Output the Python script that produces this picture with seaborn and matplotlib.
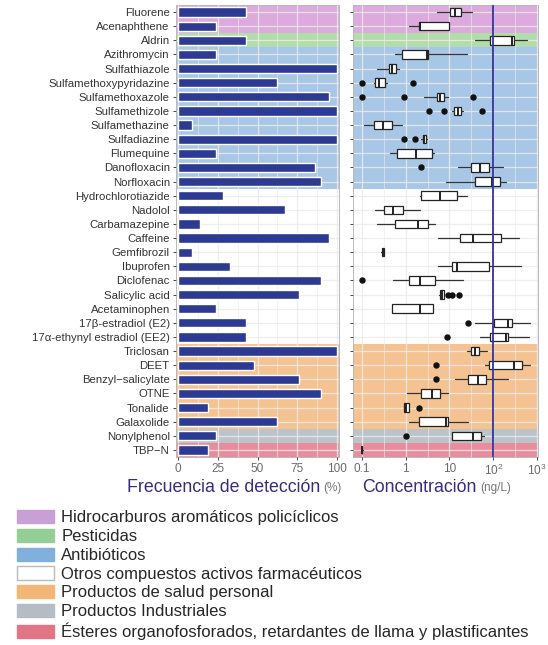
import numpy as np
import pandas as pd
import matplotlib
matplotlib.use("Agg")
import matplotlib.pyplot as plt
from matplotlib.patches import Patch
from matplotlib.ticker import FixedLocator
import seaborn as sns

# ---------------- data ----------------
compounds = [
    "Fluorene", "Acenaphthene", "Aldrin", "Azithromycin", "Sulfathiazole",
    "Sulfamethoxypyridazine", "Sulfamethoxazole", "Sulfamethizole",
    "Sulfamethazine", "Sulfadiazine", "Flumequine", "Danofloxacin",
    "Norfloxacin", "Hydrochlorotiazide", "Nadolol", "Carbamazepine",
    "Caffeine", "Gemfibrozil", "Ibuprofen", "Diclofenac", "Salicylic acid",
    "Acetaminophen", "17β-estradiol (E2)", "17α-ethynyl estradiol (EE2)",
    "Triclosan", "DEET", "Benzyl\u2212salicylate", "OTNE", "Tonalide",
    "Galaxolide", "Nonylphenol", "TBP\u2212N",
]
detection_freq = [43, 24, 43, 24, 100, 62, 95, 100, 9, 100, 24, 86, 90,
                  28, 67, 14, 95, 9, 33, 90, 76, 24, 43, 43,
                  100, 48, 76, 90, 19, 62, 24, 19]
group_of = [0, 0, 1, 2, 2, 2, 2, 2, 2, 2, 2, 2, 2,
            3, 3, 3, 3, 3, 3, 3, 3, 3, 3, 3,
            4, 4, 4, 4, 4, 4, 5, 6]

# concentration box statistics (ng/L)
whisker_low = [5.1, 1.2, 39, 0.58, 0.22, 0.19, 2.6, 11.5, 0.11, 2.3, 0.45, 16, 8.5,
               2.1, 0.20, 0.22, 5.6, 0.28, 5.6, 0.52, 5.8, 0.5, 39, 49,
               25, 66, 13.5, 1.07, 0.9, 1.17, 11.5, 0.098]
q1 = [10.5, 2.0, 85, 0.81, 0.41, 0.20, 5.1, 13, 0.19, 2.45, 0.63, 31, 39,
      2.3, 0.32, 0.58, 17, 0.29, 11.5, 1.17, 6.0, 0.5, 105, 85,
      31, 81, 26, 2.3, 0.94, 2.0, 11.5, 0.099]
median = [13.5, 2.1, 270, 3.1, 0.49, 0.25, 6.2, 15.5, 0.30, 2.6, 1.75, 50, 93,
          6.0, 0.52, 1.9, 35, 0.30, 15, 2.1, 6.6, 2.1, 220, 190,
          38, 300, 44, 4.0, 1.02, 8.5, 35, 0.100]
q3 = [18, 10, 300, 3.3, 0.60, 0.34, 7.6, 18, 0.49, 2.9, 4.0, 79, 140,
      14.5, 0.89, 3.2, 150, 0.32, 80, 4.8, 7.4, 4.2, 270, 215,
      47, 460, 69, 6.2, 1.17, 9.1, 52, 0.102]
whisker_high = [32, 10, 590, 25, 0.69, 0.37, 9.5, 20, 0.81, 3.0, 4.4, 170, 190,
                25, 2.1, 4.8, 380, 0.33, 420, 20, 7.6, 4.2, 700, 650,
                72, 680, 220, 9.5, 1.2, 26, 60, 0.104]
outliers = [[], [], [], [], [], [0.1, 1.5], [0.1, 0.9, 34], [3.5, 7.4, 55],
            [], [0.9, 1.65], [], [2.2], [],
            [], [], [], [], [], [], [0.1], [9.1, 11.7, 16.6], [], [26], [8.7],
            [], [5.0], [5.0], [], [2.0], [], [1.02], []]

group_names = [
    "Hidrocarburos aromáticos policíclicos",
    "Pesticidas",
    "Antibióticos",
    "Otros compuestos activos farmacéuticos",
    "Productos de salud personal",
    "Productos Industriales",
    "Ésteres organofosforados, retardantes de llama y plastificantes",
]
band_colors = ["#dcaadc", "#b2dcaa", "#a8c7e6", "#ffffff", "#f5c291", "#bcc3cb", "#e98d9c"]
legend_colors = ["#c9a0d6", "#93cf94", "#82b0dc", "#ffffff", "#f2b777", "#b5bcc4", "#e27585"]

freq_ticks = [0, 25, 50, 75, 100]
conc_ticks = [0.1, 1, 10, 100, 1000]
conc_tick_labels = ["0.1", "1", "10", "$10^2$", "$10^3$"]
guideline = 100

# ---------------- style ----------------
sns.set_theme(style="white")
plt.rcParams["font.family"] = ["Liberation Sans", "DejaVu Sans"]
plt.rcParams["mathtext.fontset"] = "custom"
plt.rcParams["mathtext.rm"] = "Liberation Sans"

W, H = 548, 645
fig = plt.figure(figsize=(W / 100, H / 100), dpi=100)
top, bottom = 5, 457
ax1 = fig.add_axes([176 / W, 1 - bottom / H, 163 / W, (bottom - top) / H])
ax2 = fig.add_axes([353 / W, 1 - bottom / H, 185 / W, (bottom - top) / H], sharey=ax1)

n = len(compounds)
rows = np.arange(n)

for ax in (ax1, ax2):
    for i, g in enumerate(group_of):
        if band_colors[g] != "#ffffff":
            ax.axhspan(i - 0.5, i + 0.5, color=band_colors[g], lw=0, zorder=0)
    for s in ax.spines.values():
        s.set_color("#b8b8b8")
        s.set_linewidth(0.7)

# ---- left panel: bars ----
df = pd.DataFrame({"compound": compounds, "freq": detection_freq})
sns.barplot(data=df, x="freq", y="compound", color="#2c3a92", saturation=1,
            width=0.66, ax=ax1, zorder=3)
ax1.set_xlim(-1.3, 101.3)
ax1.set_ylim(n - 0.5, -0.5)
ax1.set_xticks(freq_ticks)
ax1.xaxis.set_minor_locator(FixedLocator([12.5, 37.5, 62.5, 87.5]))
ax1.set_xlabel("")
ax1.set_ylabel("")

# ---- right panel: boxes ----
stats = []
for i in range(n):
    stats.append(dict(med=median[i], q1=q1[i], q3=q3[i], whislo=whisker_low[i],
                      whishi=whisker_high[i], fliers=outliers[i]))
ax2.set_xscale("log")
ax2.bxp(stats, positions=rows, widths=0.6, orientation="horizontal",
        patch_artist=True, manage_ticks=False, showcaps=False, zorder=3,
        boxprops=dict(facecolor="white", edgecolor="#222222", linewidth=0.9),
        medianprops=dict(color="#222222", linewidth=1.4),
        whiskerprops=dict(color="#333333", linewidth=0.9),
        flierprops=dict(marker="o", markerfacecolor="#111111",
                        markeredgecolor="#111111", markersize=3.6))
ax2.axvline(guideline, color="#34349a", lw=1.3, zorder=4)
ax2.set_xlim(10 ** -1.2, 10 ** 3.02)
ax2.set_xticks(conc_ticks)
ax2.set_xticklabels(conc_tick_labels)
ax2.xaxis.set_minor_locator(FixedLocator([10 ** -0.5, 10 ** 0.5, 10 ** 1.5, 10 ** 2.5]))
ax2.tick_params(labelleft=False)

for ax in (ax1, ax2):
    ax.set_yticks(rows)
    ax.grid(True, which="major", axis="both", color="#ececec", lw=0.9, alpha=0.85, zorder=1)
    ax.grid(True, which="minor", axis="x", color="#ececec", lw=0.5, alpha=0.85, zorder=1)
    ax.set_axisbelow(False)
    ax.tick_params(axis="both", which="major", length=2.5, width=0.7, color="#444444",
                   labelsize=8.5, labelcolor="#6a6a6a", pad=2, left=True, bottom=True)
    ax.tick_params(axis="x", which="minor", length=0)
ax1.tick_params(axis="y", labelsize=8.2, labelcolor="#333333")
ax1.set_yticklabels(compounds)
for line in ax1.get_xgridlines() + ax1.get_ygridlines() + ax2.get_xgridlines() + ax2.get_ygridlines():
    line.set_zorder(1)

# ---- axis titles ----
title_color = "#3b2a80"
fig.text(320 / W, 1 - 487 / H, "Frecuencia de detección", ha="right", va="center",
         fontsize=12.8, color=title_color)
fig.text(323 / W, 1 - 488 / H, "(%)", ha="left", va="center", fontsize=8.5, color="#777777")
fig.text(362 / W, 1 - 487 / H, "Concentración", ha="left", va="center",
         fontsize=12.8, color=title_color)
fig.text(480 / W, 1 - 488 / H, "(ng/L)", ha="left", va="center", fontsize=8.5, color="#777777")

# ---- legend ----
handles = []
for name, c in zip(group_names, legend_colors):
    ec = "#bbbbbb" if c == "#ffffff" else c
    handles.append(Patch(facecolor=c, edgecolor=ec, linewidth=1.0, label=name))
fig.legend(handles=handles, loc="upper left", bbox_to_anchor=(17 / W, 1 - 510 / H),
           frameon=False, fontsize=12, handlelength=2.2, handleheight=0.85,
           labelspacing=0.2, handletextpad=0.45, borderaxespad=0, borderpad=0)

fig.savefig("out.png", dpi=100)
